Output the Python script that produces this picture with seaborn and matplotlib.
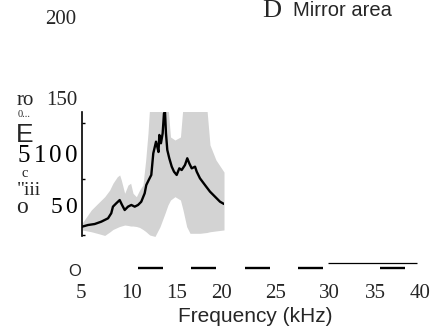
import matplotlib
matplotlib.use("Agg")
import matplotlib.pyplot as plt
import seaborn as sns

# Mean response across frequency (kHz)
freq = [5.0, 5.63, 6.34, 7.04, 7.75, 8.09, 8.27, 8.62, 8.98, 9.23, 9.51, 9.86,
        10.21, 10.57, 10.92, 11.26, 11.62, 11.79, 12.05, 12.32, 12.53, 12.82,
        12.95, 13.08, 13.17, 13.34, 13.52, 13.66, 13.77, 13.87, 14.01, 14.22,
        14.48, 14.72, 15.00, 15.28, 15.53, 15.88, 16.12, 16.33, 16.59, 16.94,
        17.12, 17.46, 17.99, 18.52, 19.05, 19.58, 20.0]
response = [7.4, 8.9, 9.8, 11.9, 14.9, 19.4, 25.3, 28.3, 31.2, 26.8, 22.3, 25.3,
            26.8, 25.3, 26.8, 29.7, 37.2, 44.6, 49.1, 53.6, 72.9, 83.3,
            78.8, 74.1, 89.3, 81.9, 90.8, 108.6, 109.5, 90.8, 75.9, 68.5,
            61.0, 56.5, 53.6, 59.5, 58.0, 62.5, 68.5, 64.0, 59.5, 61.0,
            56.5, 50.6, 44.6, 38.7, 34.2, 29.7, 27.7]

# Spread envelope around the mean
band_freq = [5.0, 5.98, 6.69, 7.40, 7.93, 8.27, 8.73, 8.98, 9.15, 9.51, 9.86,
             10.14, 10.39, 10.74, 11.09, 11.44, 11.73, 11.97, 12.15, 12.71,
             13.24, 13.77, 14.08, 14.35, 14.82, 15.40, 15.67, 16.06, 16.41,
             17.46, 18.17, 18.52, 19.15, 20.0]
band_upper = [10.4, 22.3, 28.3, 34.2, 40.2, 46.2, 52.0, 53.6, 49.1, 37.2, 44.6,
              46.2, 37.2, 34.2, 40.2, 44.6, 67.0, 90.8, 115, 115,
              115, 115, 115, 87.5, 84.8, 87.5, 115, 115, 115,
              115, 115, 80.4, 67.0, 56.2]
band_lower = [4.5, 2.9, 1.3, -0.4, 2.7, 4.9, 6.7, 7.6, 8.0, 8.9, 8.5,
              8.0, 8.0, 7.6, 6.7, 4.9, 3.1, 1.3, 0.0, -1.3,
              7.4, 19.4, 26.8, 31.2, 34.2, 31.2, 22.3, 7.4, 1.5,
              1.5, 2.2, 2.9, 3.6, 4.5]

x_tick_labels = ["5", "10", "15", "20", "25", "30", "35", "40"]
x_label = "Frequency (kHz)"
panel_letter = "D"
panel_title = "Mirror area"

sns.set_theme(style="white")
plt.rcParams["font.family"] = ["Liberation Serif", "DejaVu Sans"]

W, H = 443, 335
fig = plt.figure(figsize=(W / 100, H / 100), dpi=100)

# Page-level canvas in pixel units for the surrounding labels
bg = fig.add_axes([0, 0, 1, 1])
bg.set_xlim(0, W)
bg.set_ylim(H, 0)
bg.axis("off")

serif = "Liberation Serif"
sans = "Liberation Sans"


def spread(text, x0, x1, y, size, family=serif):
    """Place characters with centres spread evenly between x0 and x1."""
    n = len(text)
    step = (x1 - x0) / n
    for i, ch in enumerate(text):
        bg.text(x0 + step * (i + 0.5), y, ch, ha="center", va="baseline",
                fontsize=size, family=family, color="black")


# Title
bg.text(262, 17, panel_letter, ha="left", va="baseline", fontsize=19, family=serif)
bg.text(293, 16, panel_title, ha="left", va="baseline", fontsize=14.5, family=sans)

# Left-hand axis labelling
bg.text(45, 24, "200", ha="left", va="baseline", fontsize=15, family=serif)
bg.text(17, 105, "ro", ha="left", va="baseline", fontsize=15, family=serif)
bg.text(77, 105, "150", ha="right", va="baseline", fontsize=15, family=serif)
bg.text(18, 117, "0...", ha="left", va="baseline", fontsize=7.5, family=serif)
bg.text(16, 142, "E", ha="left", va="baseline", fontsize=19, family=sans)
spread("5100", 16, 79, 162, 18)
bg.text(21.5, 177, "c", ha="left", va="baseline", fontsize=10.5, family=serif)
bg.text(17, 195, "\"iii", ha="left", va="baseline", fontsize=14, family=serif)
bg.text(16.5, 213, "o", ha="left", va="baseline", fontsize=17, family=serif)
spread("50", 49, 79, 213, 17)

# Bottom axis labelling
tick_x = [80.7, 131.7, 176.7, 221.7, 276, 329.5, 375.5, 420.5]
for lbl, xp in zip(x_tick_labels, tick_x):
    bg.text(xp, 298, lbl, ha="center", va="baseline", fontsize=15, family=serif)
bg.text(75, 272, "O", ha="center", va="center", fontsize=12, family=sans)
for xa, xb in [(138, 163), (191, 216), (245, 270), (298, 323), (380, 405)]:
    bg.plot([xa, xb], [268, 268], color="black", lw=1.7, solid_capstyle="butt")
bg.plot([328, 417], [262.5, 262.5], color="black", lw=0.9, solid_capstyle="butt")
bg.text(255, 322, x_label, ha="center", va="baseline", fontsize=15, family=sans)

# Inset spectrum panel
ax = fig.add_axes([82 / W, (H - 236) / H, 142 / W, 124 / H])
ax.patch.set_alpha(0)
ax.fill_between(band_freq, band_lower, band_upper, color="#d3d3d3", linewidth=0)
sns.lineplot(x=freq, y=response, color="black", linewidth=1.7, ax=ax)
ax.set_xlim(5, 20)
ax.set_ylim(-0.9, 109.8)
ax.set_xticks([])
ax.set_yticks([0, 50, 100])
ax.set_yticklabels([])
ax.tick_params(axis="y", direction="in", length=2.5, width=1, color="black", left=True)
for side in ["top", "right", "bottom"]:
    ax.spines[side].set_visible(False)
ax.spines["left"].set_color("black")
ax.spines["left"].set_linewidth(1.2)
ax.set_xlabel("")
ax.set_ylabel("")

fig.savefig("out.png", dpi=100)
